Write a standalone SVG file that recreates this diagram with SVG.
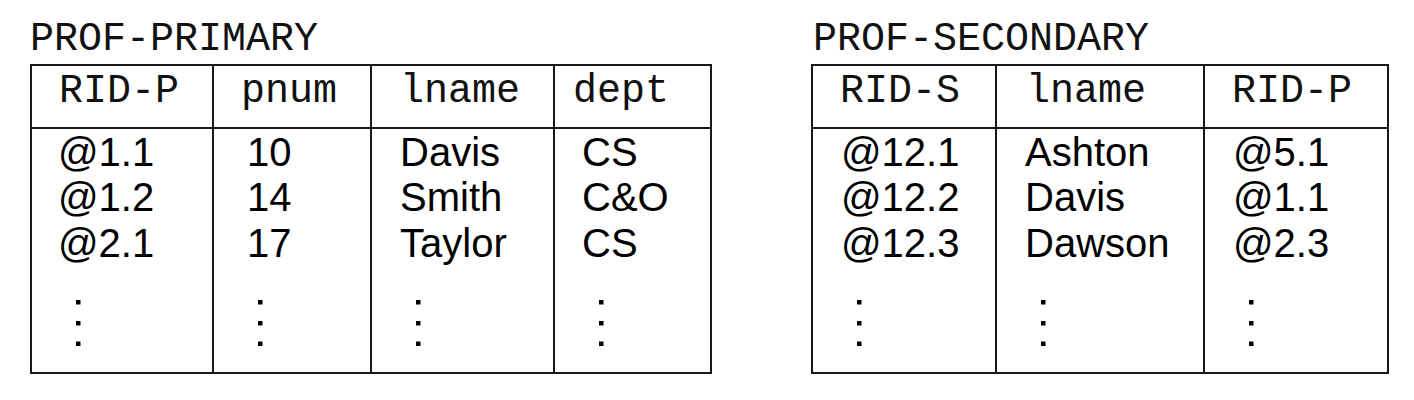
<svg xmlns="http://www.w3.org/2000/svg" width="1414" height="400" viewBox="0 0 1414 400">
<style>
.bg{fill:#fff}
.ln{stroke:#1a1a1a;stroke-width:2;fill:none}
.mono{font-family:"Liberation Mono","DejaVu Sans Mono",monospace;font-size:40px;fill:#111}
.sans{font-family:"Liberation Sans",Arial,sans-serif;font-size:40px;fill:#000}
.dot{fill:#000}
</style>
<defs>
<g id="vd"><rect class="dot" x="-2" y="-2" width="4.5" height="4.5"/><rect class="dot" x="-2" y="19" width="4.5" height="4.5"/><rect class="dot" x="-2" y="39.5" width="4.5" height="4.5"/></g>
</defs>
<rect class="bg" width="1414" height="400"/>
<g id="prof-primary">
<text class="mono" x="30" y="50">PROF-PRIMARY</text>
<rect class="ln" x="31" y="65" width="680" height="308"/>
<line class="ln" x1="31" y1="128" x2="711" y2="128"/>
<line class="ln" x1="213" y1="65" x2="213" y2="373"/>
<line class="ln" x1="371" y1="65" x2="371" y2="373"/>
<line class="ln" x1="554" y1="65" x2="554" y2="373"/>
<text class="mono" x="59" y="102">RID-P</text>
<text class="mono" x="241" y="102">pnum</text>
<text class="mono" x="400" y="102">lname</text>
<text class="mono" x="573" y="102">dept</text>
<text class="sans" x="58" y="166">@1.1</text>
<text class="sans" x="58" y="211">@1.2</text>
<text class="sans" x="58" y="257">@2.1</text>
<text class="sans" x="247" y="166">10</text>
<text class="sans" x="247" y="211">14</text>
<text class="sans" x="247" y="257">17</text>
<text class="sans" x="400" y="166">Davis</text>
<text class="sans" x="400" y="211">Smith</text>
<text class="sans" x="400" y="257">Taylor</text>
<text class="sans" x="582" y="166">CS</text>
<text class="sans" x="582" y="211">C&amp;O</text>
<text class="sans" x="582" y="257">CS</text>
<use href="#vd" x="78" y="302"/>
<use href="#vd" x="260" y="302"/>
<use href="#vd" x="418" y="302"/>
<use href="#vd" x="601" y="302"/>
</g>
<g id="prof-secondary">
<text class="mono" x="813" y="50">PROF-SECONDARY</text>
<rect class="ln" x="812" y="65" width="576" height="308"/>
<line class="ln" x1="812" y1="128" x2="1388" y2="128"/>
<line class="ln" x1="996" y1="65" x2="996" y2="373"/>
<line class="ln" x1="1204" y1="65" x2="1204" y2="373"/>
<text class="mono" x="840" y="102">RID-S</text>
<text class="mono" x="1026" y="102">lname</text>
<text class="mono" x="1232" y="102">RID-P</text>
<text class="sans" x="841" y="166">@12.1</text>
<text class="sans" x="841" y="211">@12.2</text>
<text class="sans" x="841" y="257">@12.3</text>
<text class="sans" x="1025" y="166">Ashton</text>
<text class="sans" x="1025" y="211">Davis</text>
<text class="sans" x="1025" y="257">Dawson</text>
<text class="sans" x="1233" y="166">@5.1</text>
<text class="sans" x="1233" y="211">@1.1</text>
<text class="sans" x="1233" y="257">@2.3</text>
<use href="#vd" x="859" y="302"/>
<use href="#vd" x="1043" y="302"/>
<use href="#vd" x="1251" y="302"/>
</g>
<g id="connectors"/>
</svg>
